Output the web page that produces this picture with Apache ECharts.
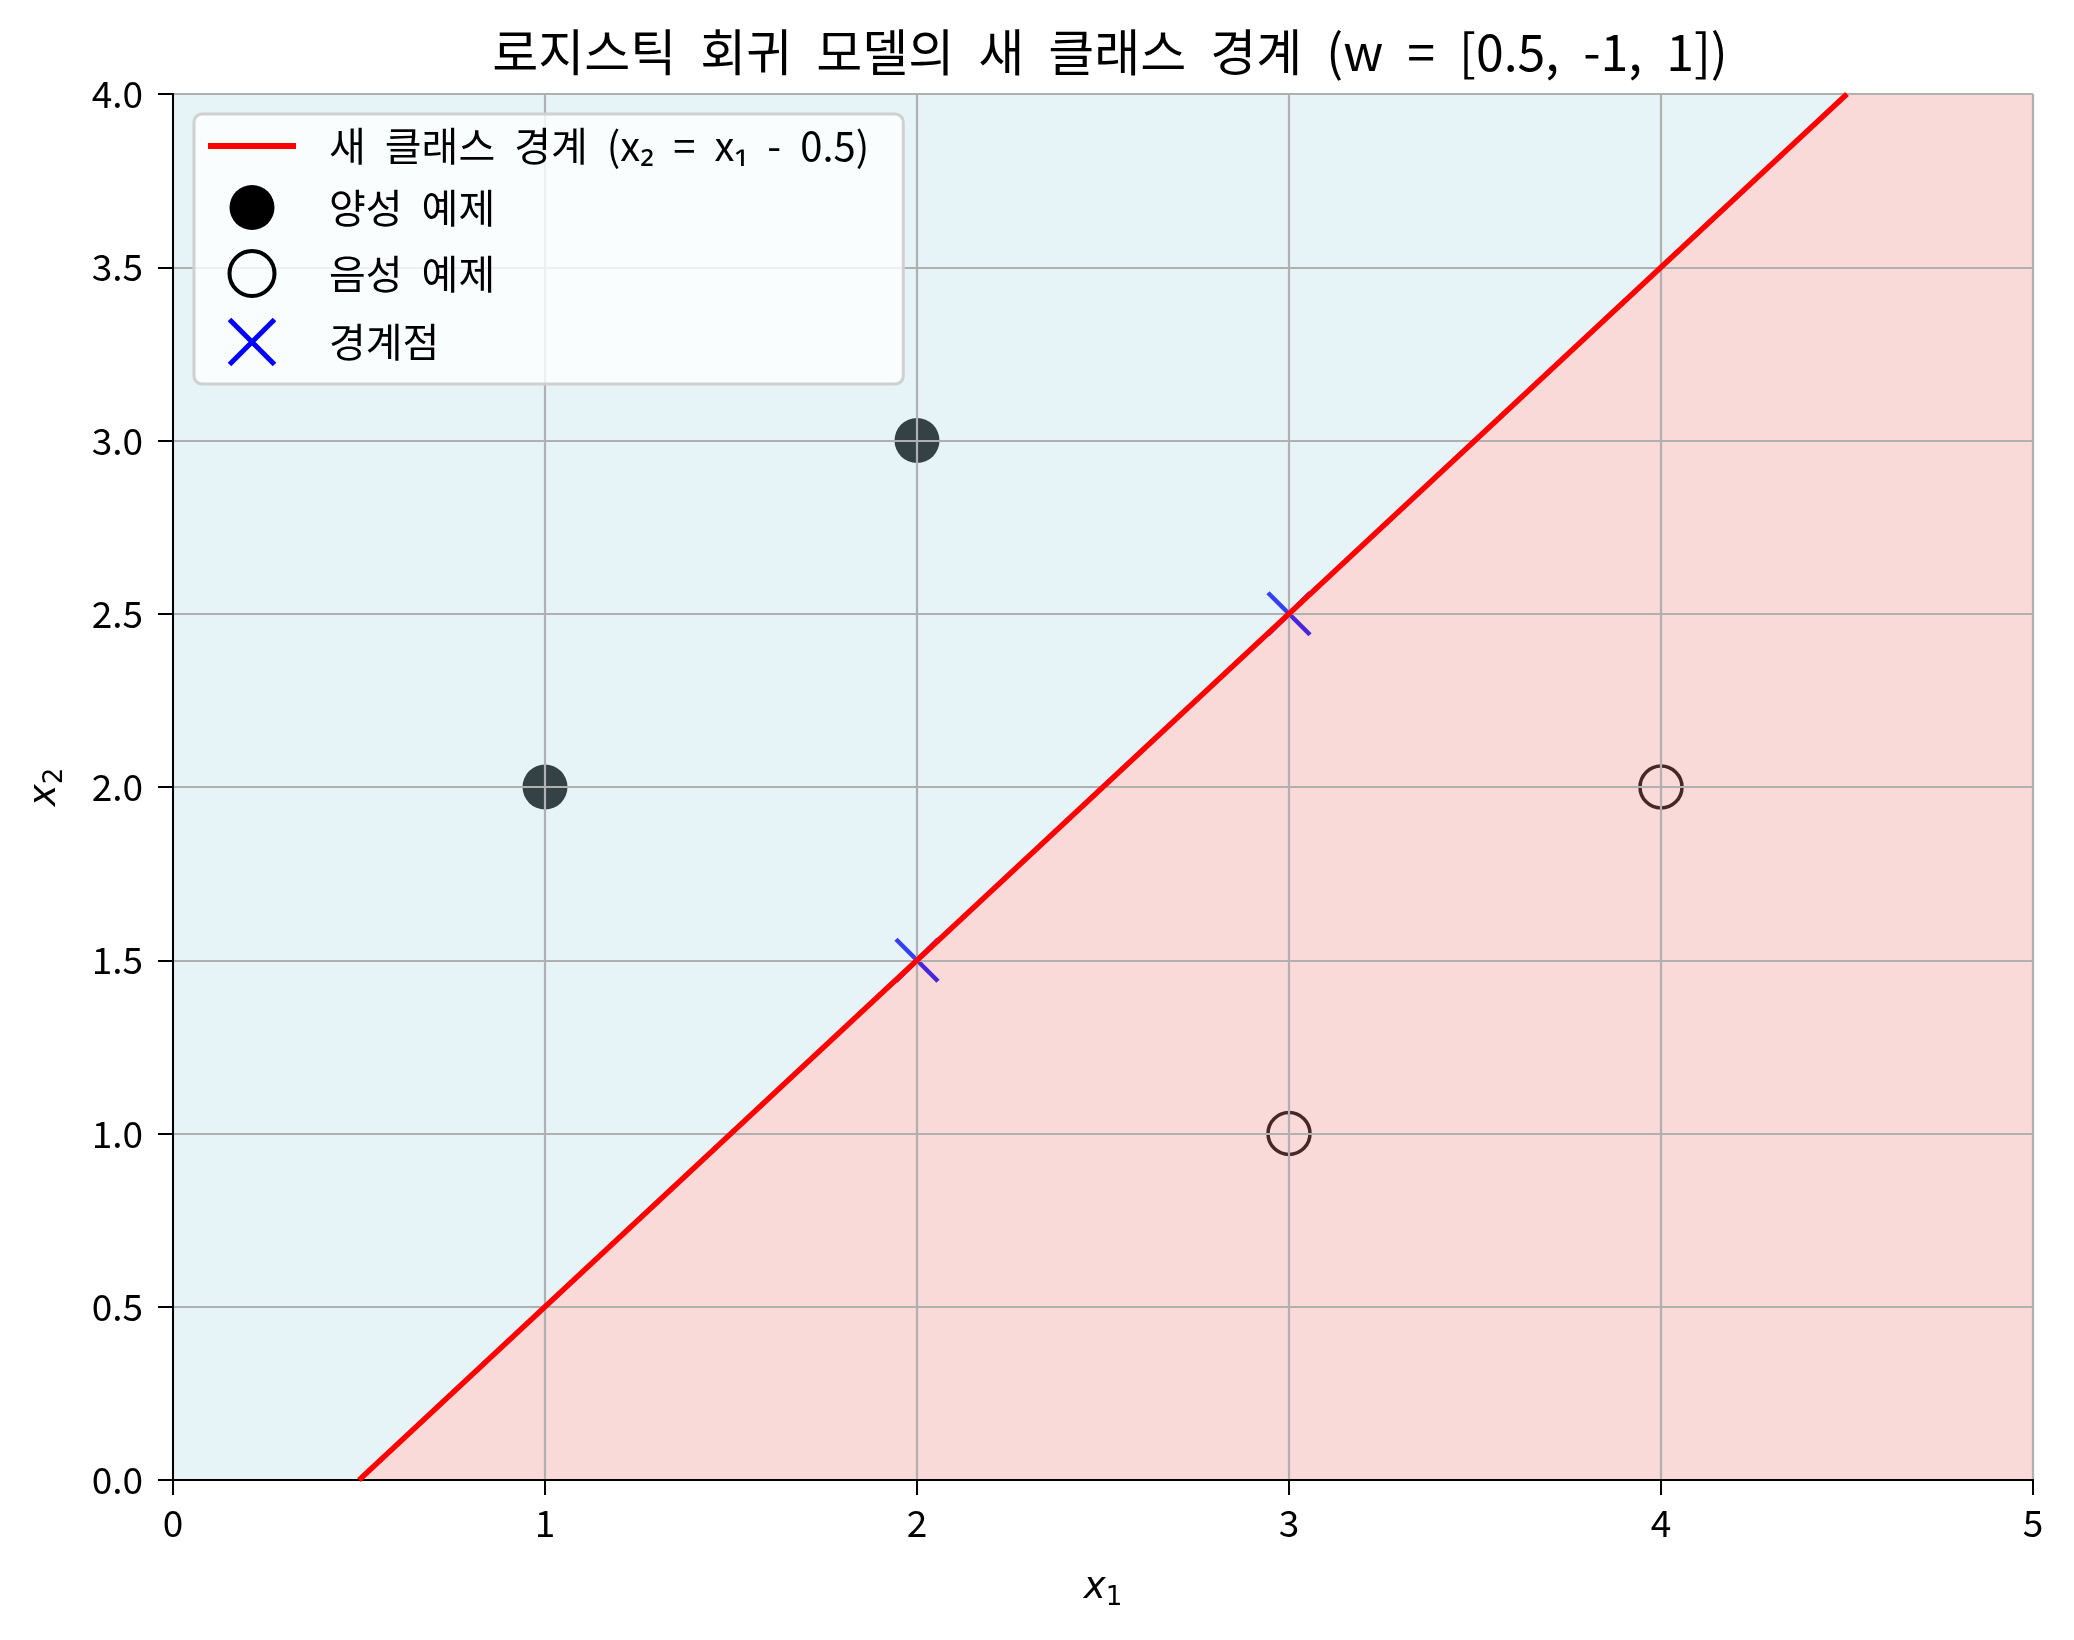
<!DOCTYPE html>
<html><head><meta charset="utf-8">
<script src="https://cdn.jsdelivr.net/npm/echarts@6/dist/echarts.min.js"></script>
<style>html,body{margin:0;padding:0;background:#fff}#c{width:2074px;height:1640px}</style>
</head><body><div id="c"></div>
<script>
// ---- data ----
const boundaryLine = [[0.5, 0], [4.5, 4]];          // new class boundary x2 = x1 - 0.5
const positivePts = [[1, 2], [2, 3]];                // 양성 예제
const negativePts = [[3, 1], [4, 2]];                // 음성 예제
const boundaryPts = [[2, 1.5], [3, 2.5]];            // 경계점
const positiveRegion = [[0, 0], [0.5, 0], [4.5, 4], [0, 4]];
const negativeRegion = [[0.5, 0], [5, 0], [5, 4], [4.5, 4]];
const xRange = [0, 5], yRange = [0, 4];
const xTickStep = 1, yTickStep = 0.5;
const titleText = '로지스틱 회귀 모델의 새 클래스 경계 (w = [0.5, -1, 1])';
const legendNames = ['새 클래스 경계 (x₂ = x₁ - 0.5)', '양성 예제', '음성 예제', '경계점'];

const FONT = '"Noto Sans CJK KR", "Noto Sans", sans-serif';
const chart = echarts.init(document.getElementById('c'), null, {renderer: 'canvas'});

// render spaces as fixed-width segments (text content unchanged)
function wideSpaces(s) {
  return s.split(' ').map(w => w.length ? '{t|' + w + '}' : '').join('{sp| }');
}
function regionSeries(region, fill) {
  return {
    type: 'custom', z: 2, silent: true,
    coordinateSystem: 'cartesian2d',
    data: [0],
    clip: true,
    renderItem: function (params, api) {
      return {
        type: 'polygon',
        shape: {points: region.map(p => api.coord(p))},
        style: {fill: fill}
      };
    }
  };
}

const spine = {show: true, lineStyle: {color: '#000', width: 2}};
const subRich = {
  i: {fontFamily: 'DejaVu Sans', fontStyle: 'italic', fontSize: 37, color: '#000'},
  s: {fontFamily: 'DejaVu Sans', fontSize: 26, color: '#000', verticalAlign: 'bottom', padding: [20, 0, 0, 0]}
};
const option = {
  animation: false,
  backgroundColor: '#fff',
  title: {
    text: wideSpaces(titleText), left: 1105, top: 22, textAlign: 'center',
    textStyle: {
      fontFamily: FONT, fontSize: 50, fontWeight: 'normal', color: '#000',
      rich: {
        t: {fontFamily: FONT, fontSize: 50, color: '#000'},
        sp: {fontFamily: FONT, fontSize: 50, color: '#000', width: 24}
      }
    }
  },
  grid: {left: 173, top: 94, width: 1860, height: 1386, containLabel: false},
  legend: {
    orient: 'vertical', left: 194, top: 114,
    padding: [12, 34, 17, 14],
    itemWidth: 88, itemHeight: 45, itemGap: 19,
    symbolKeepAspect: true,
    backgroundColor: 'rgba(255,255,255,0.8)',
    borderColor: '#d0d0d0', borderWidth: 3, borderRadius: 8,
    formatter: name => wideSpaces(name),
    textStyle: {
      fontFamily: FONT, fontSize: 40, color: '#000', padding: [0, 0, 0, 28],
      rich: {
        t: {fontFamily: FONT, fontSize: 40, color: '#000'},
        sp: {fontFamily: FONT, fontSize: 40, color: '#000', width: 19}
      }
    },
    data: [
      {name: legendNames[0], icon: 'path://M0,0L88,0L88,6L0,6Z', itemStyle: {color: '#ff0000', borderWidth: 0}},
      {name: legendNames[1], icon: 'circle', itemStyle: {color: '#000', borderWidth: 0}},
      {name: legendNames[2], icon: 'circle', itemStyle: {color: 'rgba(0,0,0,0)', borderColor: '#000', borderWidth: 4}},
      {name: legendNames[3], icon: 'path://M0,0L10,10M10,0L0,10', itemStyle: {color: 'rgba(0,0,0,0)', borderColor: '#0000ff', borderWidth: 5}}
    ]
  },
  xAxis: [{
    type: 'value', min: xRange[0], max: xRange[1], interval: xTickStep, z: 3,
    position: 'bottom',
    name: '{i|x}{s|1}', nameLocation: 'middle', nameGap: 85,
    nameTextStyle: {rich: subRich},
    axisLine: spine,
    axisTick: {show: true, length: 15, lineStyle: {color: '#000', width: 2}},
    axisLabel: {fontFamily: FONT, fontSize: 37, color: '#000', margin: 24},
    splitLine: {show: true, lineStyle: {color: '#b0b0b0', width: 2.2}}
  }, {
    type: 'value', min: xRange[0], max: xRange[1], interval: xTickStep, z: 3,
    position: 'top', axisLine: spine, axisTick: {show: false}, axisLabel: {show: false}, splitLine: {show: false}
  }],
  yAxis: [{
    type: 'value', min: yRange[0], max: yRange[1], interval: yTickStep, z: 3,
    position: 'left',
    name: '{i|x}{s|2}', nameLocation: 'middle', nameGap: 105, nameRotate: 90,
    nameTextStyle: {rich: subRich},
    axisLine: spine,
    axisTick: {show: true, length: 15, lineStyle: {color: '#000', width: 2}},
    axisLabel: {fontFamily: FONT, fontSize: 37, color: '#000', margin: 30, formatter: v => v.toFixed(1)},
    splitLine: {show: true, lineStyle: {color: '#b0b0b0', width: 2.2}}
  }, {
    type: 'value', min: yRange[0], max: yRange[1], interval: yTickStep, z: 3,
    position: 'right', axisLine: spine, axisTick: {show: false}, axisLabel: {show: false}, splitLine: {show: false}
  }],
  series: [
    {
      name: legendNames[0], type: 'line', z: 4, data: boundaryLine,
      symbol: 'none', lineStyle: {color: '#ff0000', width: 5.5}, itemStyle: {color: '#ff0000'}
    },
    {
      name: legendNames[1], type: 'scatter', z: 1, data: positivePts,
      symbol: 'circle', symbolSize: 45, itemStyle: {color: '#000', opacity: 1}
    },
    {
      name: legendNames[2], type: 'scatter', z: 1, data: negativePts,
      symbol: 'circle', symbolSize: 42,
      itemStyle: {color: 'rgba(0,0,0,0)', borderColor: '#000', borderWidth: 3.5, opacity: 1}
    },
    {
      name: legendNames[3], type: 'scatter', z: 1, data: boundaryPts,
      symbol: 'path://M0,0L10,10M10,0L0,10', symbolSize: 42, symbolKeepAspect: true,
      itemStyle: {color: 'rgba(0,0,0,0)', borderColor: '#0000ff', borderWidth: 4.5, opacity: 1}
    },
    regionSeries(positiveRegion, 'rgba(173,216,230,0.3)'),
    regionSeries(negativeRegion, 'rgba(240,128,128,0.3)')
  ]
};
chart.setOption(option);
</script>
</body></html>
